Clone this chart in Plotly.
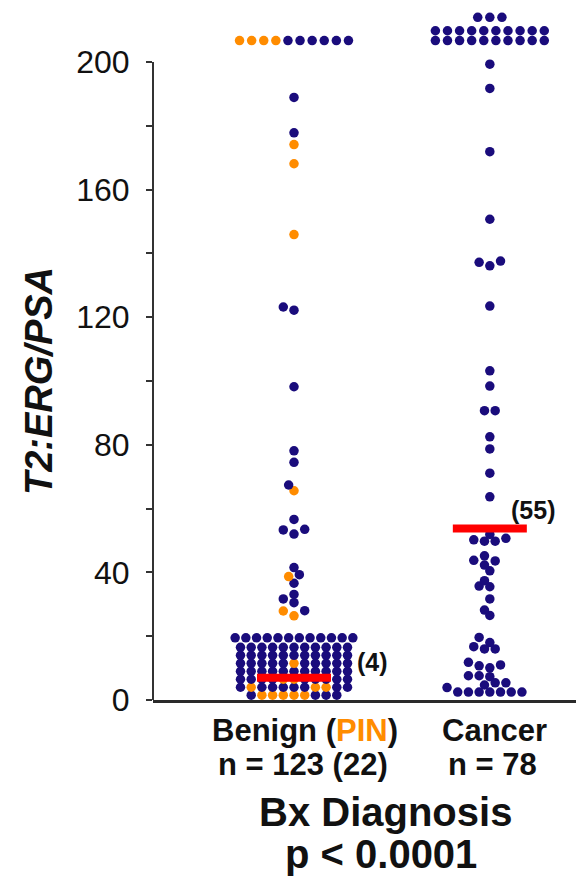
import math
import plotly.graph_objects as go

# ---------------- data ----------------
categories = ["Benign", "Cancer"]
category_labels = ["Benign (<span style='color:#ff8c00'>PIN</span>)", "Cancer"]
n_labels = ["n = 123 (22)", "n = 78"]

# Benign biopsies: value and PIN flag (1 = PIN, orange); listed bottom-up, left-to-right
benign_values = [
    1.5, 1.5, 1.5, 1.5, 1.5, 1.5, 1.5, 1.5, 1.5,
    4.0, 4.0, 4.0, 4.0, 4.0, 4.0, 4.0, 4.0, 4.0, 4.0, 4.0,
    6.5, 6.5, 6.5, 6.5, 6.5, 6.5, 6.5, 6.5, 6.5, 6.5, 6.5,
    9.0, 9.0, 9.0, 9.0, 9.0, 9.0, 9.0, 9.0, 9.0, 9.0, 9.0,
    11.5, 11.5, 11.5, 11.5, 11.5, 11.5, 11.5, 11.5, 11.5, 11.5, 11.5,
    14.0, 14.0, 14.0, 14.0, 14.0, 14.0, 14.0, 14.0, 14.0, 14.0, 14.0,
    16.5, 16.5, 16.5, 16.5, 16.5, 16.5, 16.5, 16.5, 16.5, 16.5, 16.5,
    19.5, 19.5, 19.5, 19.5, 19.5, 19.5, 19.5, 19.5, 19.5, 19.5, 19.5, 19.5,
    26.4, 27.9, 28.0, 30.5, 31.7, 33.1, 36.6, 38.7, 39.3, 41.5,
    52.0, 53.3, 53.5, 56.6, 65.6, 67.4, 74.5, 78.1, 98.2,
    122.2, 123.2, 145.9, 168.1, 174.1, 177.8, 188.9,
    206.7, 206.7, 206.7, 206.7, 206.7, 206.7, 206.7, 206.7, 206.7, 206.7,
]
benign_pin = [
    0, 1, 1, 1, 1, 1, 0, 0, 0,
    0, 1, 0, 0, 0, 0, 0, 1, 1, 0, 0,
    0, 0, 0, 0, 1, 1, 0, 0, 0, 0, 0,
    0, 0, 0, 0, 0, 0, 0, 0, 0, 0, 0,
    0, 0, 0, 0, 0, 1, 0, 0, 0, 0, 0,
    0, 0, 0, 0, 0, 0, 0, 0, 0, 0, 0,
    0, 0, 0, 0, 0, 0, 0, 0, 0, 0, 0,
    0, 0, 0, 0, 0, 0, 0, 0, 0, 0, 0, 0,
    1, 1, 0, 0, 0, 0, 0, 1, 0, 0,
    0, 0, 0, 0, 1, 0, 0, 0, 0,
    0, 0, 1, 1, 1, 0, 0,
    1, 1, 1, 1, 0, 0, 0, 0, 0, 0,
]

cancer_values = [
    3.9, 2.5, 2.5, 2.5, 2.5, 2.5, 2.5, 2.5, 4.7,
    5.4, 5.4, 7.6, 7.3, 7.6, 10.1, 10.7, 11.0, 11.8,
    16.0, 16.0, 16.7, 18.0, 19.6, 26.5, 28.2, 31.7,
    35.5, 35.7, 37.4, 40.5, 42.3, 43.6, 43.8, 45.2,
    49.8, 49.8, 50.2, 50.7, 51.9, 63.7, 71.1, 78.7, 82.5,
    90.7, 90.7, 98.4, 103.2, 123.5, 136.1, 137.2, 137.6,
    150.7, 171.9, 191.7, 199.3,
    206.7, 206.7, 206.7, 206.7, 206.7, 206.7, 206.7, 206.7, 206.7, 206.7,
    209.8, 209.8, 209.8, 209.8, 209.8, 209.8, 209.8, 209.8, 209.8, 209.8,
    214.0, 214.0, 214.0,
]

median_line = [7.0, 53.8]
median_label = ["(4)", "(55)"]

y_ticks = [0, 20, 40, 60, 80, 100, 120, 140, 160, 180, 200]
y_ticklabels = ["0", "", "40", "", "80", "", "120", "", "160", "", "200"]

# ---------------- style / layout ----------------
NAVY = "#1a0c7c"
ORANGE = "#ff8c00"
FONT = "Liberation Sans, Arial"
W, H = 576, 879
ML, MR, MT, MB = 153, 0, 10, 179
Y_RANGE = [0, 216.3]
X_RANGE = [-0.72, 1.44]
plot_w = W - ML - MR
plot_h = H - MT - MB
px_x = plot_w / (X_RANGE[1] - X_RANGE[0])   # pixels per x unit
px_y = plot_h / (Y_RANGE[1] - Y_RANGE[0])   # pixels per y unit

DOT = 9.5
SPACING = 10.7      # horizontal spacing between dots in a row (px)
SPACING_CAP = 12.1  # spacing for values shown above the axis top
DMIN = 7.5
HALF = SPACING / 2


def swarm(values):
    """Beeswarm offsets (in px): equal values form centred rows, others avoid overlap."""
    n = len(values)
    order = sorted(range(n), key=lambda i: values[i])
    rows, cur = [], [order[0]]
    for i in order[1:]:
        if values[i] == values[cur[0]]:
            cur.append(i)
        else:
            rows.append(cur)
            cur = [i]
    rows.append(cur)
    placed = []
    offs = [0.0] * n
    cands = [0]
    for k in range(1, 60):
        cands += [-k, k]
    for row in rows:
        m = len(row)
        sp = SPACING_CAP if values[row[0]] > 200 else SPACING
        base = [(k - (m - 1) / 2) * sp for k in range(m)]
        for c in cands:
            sh = c * HALF
            ok = True
            for b, i in zip(base, row):
                yy = values[i] * px_y
                for (px, py) in placed:
                    if math.hypot(b + sh - px, yy - py) < DMIN:
                        ok = False
                        break
                if not ok:
                    break
            if ok:
                break
        for b, i in zip(base, row):
            offs[i] = b + sh
            placed.append((b + sh, values[i] * px_y))
    return offs, order


fig = go.Figure()

groups = [
    (benign_values, benign_pin),
    (cancer_values, [0] * len(cancer_values)),
]
for gi, (vals, pin) in enumerate(groups):
    offs, order = swarm(vals)
    xs = [gi + offs[i] / px_x for i in order]
    ys = [vals[i] for i in order]
    cols = [ORANGE if pin[i] else NAVY for i in order]
    fig.add_trace(go.Scatter(
        x=xs, y=ys, mode="markers",
        marker=dict(size=DOT, color=cols, line=dict(width=0)),
        cliponaxis=False, showlegend=False, hoverinfo="y",
    ))

MED_HALF = 37 / px_x
for gi, m in enumerate(median_line):
    fig.add_trace(go.Scatter(
        x=[gi - MED_HALF, gi + MED_HALF], y=[m, m], mode="lines",
        line=dict(color="#ff0000", width=8), showlegend=False, hoverinfo="skip",
    ))

label_shift = [(78, 16), (43, 18)]
for gi, (m, t) in enumerate(zip(median_line, median_label)):
    fig.add_annotation(x=gi, y=m, xref="x", yref="y", text=f"<b>{t}</b>",
                       showarrow=False, xshift=label_shift[gi][0], yshift=label_shift[gi][1],
                       font=dict(size=25, color="#111111", family=FONT))

cat_xshift = [11, 5]
for gi in range(len(categories)):
    fig.add_annotation(x=gi, y=0, xref="x", yref="paper", text=f"<b>{category_labels[gi]}</b>",
                       showarrow=False, xshift=cat_xshift[gi], yshift=-30, yanchor="middle",
                       font=dict(size=31, color="#111111", family=FONT))
    fig.add_annotation(x=gi, y=0, xref="x", yref="paper", text=f"<b>{n_labels[gi]}</b>",
                       showarrow=False, xshift=cat_xshift[gi] - 2, yshift=-64, yanchor="middle",
                       font=dict(size=31, color="#111111", family=FONT))

fig.add_annotation(x=(385 - ML) / plot_w, y=0, xref="paper", yref="paper",
                   text="<b>Bx Diagnosis</b>", showarrow=False, yshift=-112, yanchor="middle",
                   font=dict(size=40, color="#111111", family=FONT))
fig.add_annotation(x=(381 - ML) / plot_w, y=0, xref="paper", yref="paper",
                   text="<b>p &lt; 0.0001</b>", showarrow=False, yshift=-154, yanchor="middle",
                   font=dict(size=40, color="#111111", family=FONT))

fig.add_annotation(x=0, y=100, xref="paper", yref="y", text="<b><i>T2:ERG/PSA</i></b>",
                   textangle=-90, showarrow=False, xshift=-114, xanchor="center", yanchor="middle",
                   font=dict(size=38, color="#111111", family=FONT))

# y axis line only from 0 to 200
fig.add_shape(type="line", xref="paper", yref="y", x0=0, x1=0, y0=0, y1=200,
              line=dict(color="#333333", width=2))

fig.update_layout(
    width=W, height=H, margin=dict(l=ML, r=MR, t=MT, b=MB),
    paper_bgcolor="white", plot_bgcolor="white",
    xaxis=dict(range=X_RANGE, showgrid=False, zeroline=False, showticklabels=False,
               ticks="", showline=True, linecolor="#2a2a2a", linewidth=3, fixedrange=True),
    yaxis=dict(range=Y_RANGE, showgrid=False, zeroline=False, showline=False,
               tickmode="array", tickvals=y_ticks, ticktext=y_ticklabels,
               ticks="outside", ticklen=6, tickwidth=1.5, tickcolor="#333333",
               ticklabelstandoff=10,
               tickfont=dict(size=32, color="#111111", family=FONT)),
    font=dict(family=FONT),
)

fig.write_html("out.html",
               config={"displayModeBar": False},
               post_script="document.body.style.margin='0px';document.body.style.overflow='hidden';")
